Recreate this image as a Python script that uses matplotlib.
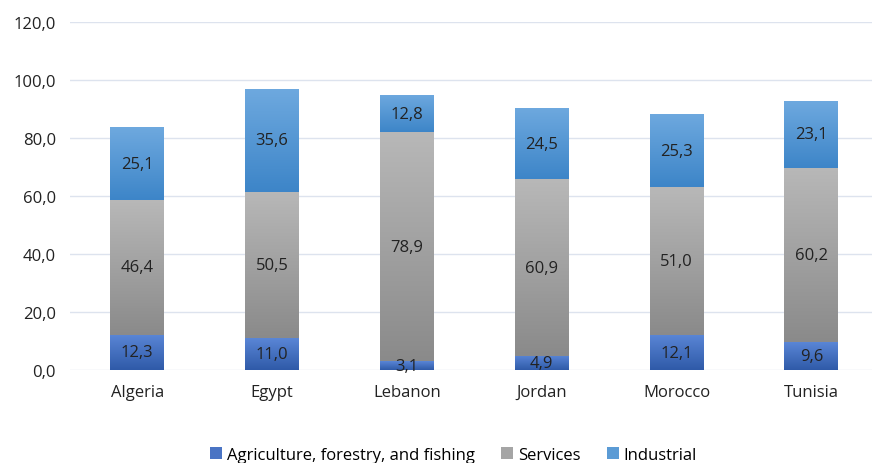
import numpy as np
import matplotlib.pyplot as plt
from matplotlib.colors import LinearSegmentedColormap

countries = ["Algeria", "Egypt", "Lebanon", "Jordan", "Morocco", "Tunisia"]
agriculture = [12.3, 11.0, 3.1, 4.9, 12.1, 9.6]
services = [46.4, 50.5, 78.9, 60.9, 51.0, 60.2]
industrial = [25.1, 35.6, 12.8, 24.5, 25.3, 23.1]

series = [
    ("Agriculture, forestry, and fishing", agriculture, "#4a74c4", "#2f5aa8", "#5a86d6"),
    ("Services", services, "#a5a5a5", "#8a8a8a", "#b8b8b8"),
    ("Industrial", industrial, "#5b9bd5", "#3d85c8", "#6ea9df"),
]

plt.rcParams["font.family"] = ["Open Sans", "DejaVu Sans"]

fig = plt.figure(figsize=(8.72, 4.64), dpi=100)
ax = fig.add_axes([0.08, 0.2, 0.92, 0.75])

x = np.arange(len(countries))
bottom = np.zeros(len(countries))
grad = np.linspace(0, 1, 256).reshape(-1, 1)
for name, vals, col, dark, light in series:
    bars = ax.bar(x, vals, width=0.4, bottom=bottom, color=col, label=name,
                  edgecolor="none", zorder=2)
    cmap = LinearSegmentedColormap.from_list(name, [dark, light])
    for b, v in zip(bars, vals):
        x0, y0 = b.get_x(), b.get_y()
        w, h = b.get_width(), b.get_height()
        im = ax.imshow(grad, cmap=cmap, extent=(x0, x0 + w, y0, y0 + h),
                       origin="lower", aspect="auto", zorder=2.5)
        im.set_clip_path(b)
        ax.text(x0 + w / 2, y0 + h / 2, f"{v:.1f}".replace(".", ","),
                ha="center", va="center", fontsize=12, color="#222222", zorder=3)
    bottom += np.array(vals)

ax.set_xlim(-0.5, 5.45)
ax.set_ylim(0, 120)
ax.set_yticks(np.arange(0, 121, 20))
ax.set_yticklabels([f"{t:.1f}".replace(".", ",") for t in np.arange(0, 121, 20)],
                   fontsize=12, color="#222222")
ax.set_xticks(x)
ax.set_xticklabels(countries, fontsize=12, color="#222222")
ax.tick_params(length=0, pad=10)
ax.grid(axis="y", color="#dde3ee", linewidth=1, zorder=0)
for s in ax.spines.values():
    s.set_visible(False)

fig.legend(*ax.get_legend_handles_labels(), loc="center", bbox_to_anchor=(0.52, 0.017),
           ncol=3, frameon=False, fontsize=12, handlelength=0.7, handleheight=0.7,
           handletextpad=0.3, columnspacing=1.6)

fig.savefig("out.png", dpi=100)
